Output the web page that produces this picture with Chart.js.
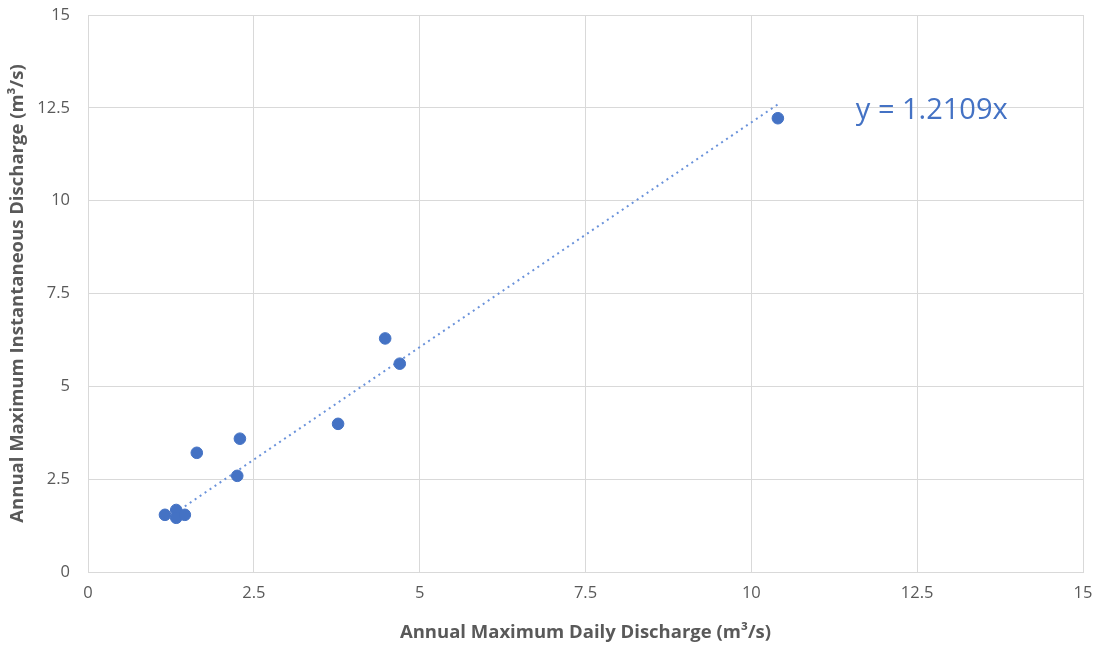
<!DOCTYPE html>
<html>
<head>
<meta charset="utf-8">
<script src="https://cdn.jsdelivr.net/npm/chart.js@4/dist/chart.umd.min.js"></script>
<style>
  html, body { margin: 0; padding: 0; background: #fff; }
  #wrap { width: 1097px; height: 649px; position: relative; }
</style>
</head>
<body>
<div id="wrap"><canvas id="c" width="1097" height="649"></canvas></div>
<script>
const dailyMax = [1.16, 1.33, 1.33, 1.46, 1.64, 2.25, 2.29, 3.77, 4.48, 4.70, 10.40];
const instMax  = [1.54, 1.67, 1.46, 1.54, 3.21, 2.59, 3.59, 3.99, 6.29, 5.61, 12.22];
const slope = 1.2109;
const equationText = 'y = 1.2109x';
const xTitle = 'Annual Maximum Daily Discharge (m³/s)';
const yTitle = 'Annual Maximum Instantaneous Discharge (m³/s)';

const points = dailyMax.map((x, i) => ({ x: x, y: instMax[i] }));
const xMin = Math.min(...dailyMax), xMax = Math.max(...dailyMax);
const trend = [{ x: xMin, y: slope * xMin }, { x: xMax, y: slope * xMax }];

const FONT = "'Open Sans', 'Liberation Sans', sans-serif";
const GRID = '#d9d9d9';
const TXT = '#595959';
const BLUE = '#4472C4';

const eqPlugin = {
  id: 'eqLabel',
  afterDatasetsDraw(chart) {
    const { ctx, scales } = chart;
    const px = scales.x.getPixelForValue(12.72);
    const py = scales.y.getPixelForValue(12.42);
    ctx.save();
    ctx.font = "29px " + FONT;
    ctx.fillStyle = BLUE;
    ctx.textAlign = 'center';
    ctx.textBaseline = 'middle';
    ctx.fillText(equationText, px, py);
    ctx.restore();
  }
};

new Chart(document.getElementById('c'), {
  type: 'scatter',
  data: {
    datasets: [
      {
        type: 'line',
        data: trend,
        borderColor: '#6A92DA',
        borderWidth: 2,
        borderDash: [2, 4],
        pointRadius: 0,
        fill: false,
        order: 2
      },
      {
        data: points,
        backgroundColor: BLUE,
        borderColor: BLUE,
        pointRadius: 5.8,
        pointHoverRadius: 5.8,
        order: 1
      }
    ]
  },
  plugins: [eqPlugin],
  options: {
    responsive: false,
    animation: false,
    devicePixelRatio: 1,
    layout: { padding: { left: 0, right: 14, top: 15, bottom: 5 } },
    plugins: { legend: { display: false }, tooltip: { enabled: false } },
    scales: {
      x: {
        type: 'linear',
        min: 0, max: 15,
        ticks: { stepSize: 2.5, color: TXT, font: { family: FONT, size: 16.5 }, padding: 11 },
        grid: { color: GRID, lineWidth: 1, drawTicks: false },
        border: { color: GRID },
        title: { display: true, text: xTitle, color: TXT, font: { family: FONT, size: 18.5, weight: 'bold' }, padding: { top: 8, bottom: 0 } },
        afterFit(scale) { scale.height = 72; scale.paddingLeft = 0; scale.paddingRight = 0; }
      },
      y: {
        type: 'linear',
        min: 0, max: 15,
        ticks: { stepSize: 2.5, color: TXT, font: { family: FONT, size: 16.5 }, padding: 18 },
        grid: { color: GRID, lineWidth: 1, drawTicks: false },
        border: { color: GRID },
        title: { display: true, text: yTitle, color: TXT, font: { family: FONT, size: 18.5, weight: 'bold' }, padding: { top: 7, bottom: 8 } },
        afterFit(scale) { scale.width = 88; scale.paddingTop = 0; scale.paddingBottom = 0; }
      }
    }
  }
});
</script>
</body>
</html>
